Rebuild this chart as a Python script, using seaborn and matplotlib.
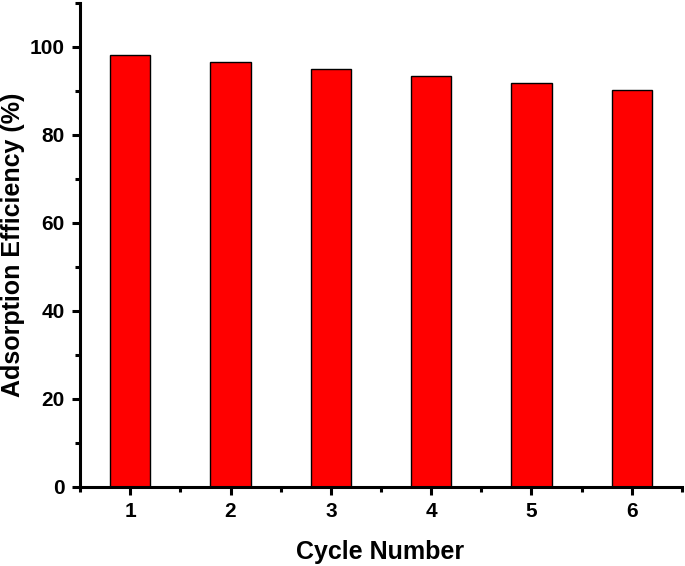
import matplotlib
matplotlib.use("Agg")
import matplotlib.pyplot as plt
import seaborn as sns
import pandas as pd
import numpy as np
from matplotlib.ticker import MultipleLocator

# --- data ---
cycles = ["1", "2", "3", "4", "5", "6"]
efficiency = [98.2, 96.5, 94.9, 93.3, 91.8, 90.2]

df = pd.DataFrame({"Cycle": cycles, "Efficiency": efficiency})

sns.set_style("ticks")
plt.rcParams["font.family"] = ["Liberation Sans", "DejaVu Sans"]
plt.rcParams["font.weight"] = "bold"
plt.rcParams["text.color"] = "black"
plt.rcParams["axes.labelcolor"] = "black"

fig = plt.figure(figsize=(6.85, 5.66), dpi=100)
ax = fig.add_axes([0.1168, 0.1396, 0.8788, 0.8551])

sns.barplot(data=df, x="Cycle", y="Efficiency", order=cycles, color="#ff0000",
            saturation=1, width=0.4, edgecolor="black", linewidth=1, ax=ax)

ax.set_xlim(-0.5, 5.5)
ax.set_ylim(0, 110)
ax.yaxis.set_major_locator(MultipleLocator(20))
ax.yaxis.set_minor_locator(MultipleLocator(10))
ax.set_xticks(np.arange(-0.5, 6, 1), minor=True)

for side in ["top", "right"]:
    ax.spines[side].set_visible(False)
for side in ["left", "bottom"]:
    ax.spines[side].set_linewidth(2.2)
    ax.spines[side].set_color("black")

ax.tick_params(which="major", direction="out", length=6, width=2.2,
               labelsize=15, pad=5, colors="black")
ax.tick_params(which="minor", direction="out", length=3.5, width=2.2, colors="black")
for lab in ax.get_xticklabels() + ax.get_yticklabels():
    lab.set_fontweight("bold")

ax.set_xlabel("Cycle Number", fontsize=18, fontweight="bold", color="black")
ax.set_ylabel("Adsorption Efficiency (%)", fontsize=18, fontweight="bold", color="black")
ax.xaxis.set_label_coords(0.498, -0.11)
ax.yaxis.set_label_coords(-0.091, 0.5)

fig.savefig("out.png", dpi=100)
